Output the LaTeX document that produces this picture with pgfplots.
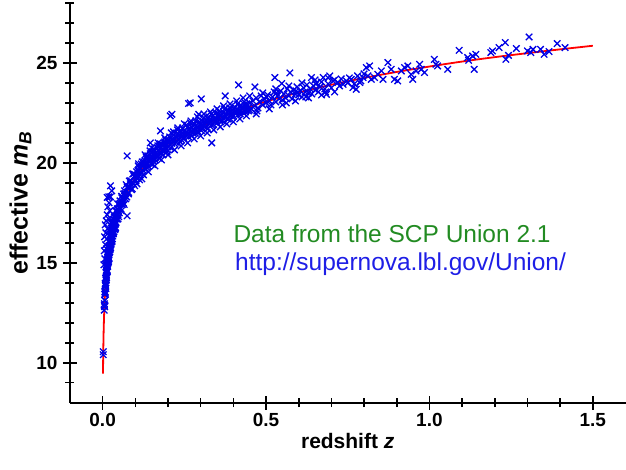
\documentclass[border=0pt]{standalone}
\usepackage{pgfplots}
\pgfplotsset{compat=1.18}
\usepackage{fontspec}
\setmainfont{Liberation Sans}
\definecolor{txtgreen}{RGB}{34,139,34}
\definecolor{txtblue}{RGB}{30,30,230}
\begin{document}
\begin{tikzpicture}
\begin{axis}[
  name=ax,
  scale only axis, width=556pt, height=400pt,
  xmin=-0.1, xmax=1.6, ymin=8, ymax=28,
  axis x line*=bottom, axis y line*=left,
  axis line style={line width=1.8pt},
  xtick={0,0.5,1,1.5},
  minor xtick={0.1,0.2,0.3,0.4,0.6,0.7,0.8,0.9,1.1,1.2,1.3,1.4},
  ytick={10,15,20,25},
  minor ytick={9,11,12,13,14,16,17,18,19,21,22,23,24,26,27,28},
  tick align=center,
  major tick length=14pt, minor tick length=9pt,
  every tick/.style={line width=1.6pt, black},
  /pgf/number format/assume math mode=true,
  xticklabel style={/pgf/number format/fixed, /pgf/number format/fixed zerofill, /pgf/number format/precision=1, font=\fontsize{19}{21}\selectfont\bfseries},
  yticklabel style={font=\fontsize{19}{21}\selectfont\bfseries, xshift=-2pt},
  xlabel={\bfseries redshift \textit{z}},
  ylabel={\bfseries effective \textit{m}\textsubscript{\textit{B}}},
  xlabel style={font=\fontsize{21}{24}\selectfont},
  ylabel style={font=\fontsize{25}{28}\selectfont, yshift=-2pt},
  clip=false,
]
% model curve
\addplot[red, line width=1.8pt, smooth] coordinates {
(0.00117,9.45) (0.0015,9.98) (0.002,10.61) (0.003,11.49) (0.004,12.11) (0.005,12.60)
(0.0065,13.18) (0.008,13.63) (0.01,14.12) (0.0125,14.61) (0.015,15.01) (0.0175,15.34)
(0.02,15.63) (0.025,16.12) (0.03,16.53) (0.035,16.87) (0.04,17.17) (0.05,17.66)
(0.06,18.07) (0.07,18.42) (0.08,18.72) (0.09,18.99) (0.1,19.23) (0.12,19.65)
(0.14,20.01) (0.16,20.33) (0.18,20.61) (0.2,20.85) (0.25,21.37) (0.3,21.81)
(0.35,22.18) (0.4,22.51) (0.45,22.80) (0.5,23.07) (0.6,23.52) (0.7,23.91)
(0.8,24.25) (0.9,24.55) (1.0,24.82) (1.1,25.07) (1.2,25.29) (1.3,25.49)
(1.4,25.68) (1.5,25.86)
};
% supernovae
\addplot[only marks, mark=x, mark size=4.6pt, color=blue!90!black, mark options={line width=1.3pt}] table {
z m
0.0019 10.55
0.0020 10.40
0.0048 12.63
0.0052 12.86
0.0055 12.95
0.006 12.80
0.0063 13.42
0.0065 13.12
0.007 13.56
0.0072 13.12
0.0075 13.54
0.0078 13.97
0.008 13.49
0.0083 13.89
0.0085 13.43
0.0088 13.93
0.009 13.87
0.0093 14.22
0.0095 13.82
0.0098 14.21
0.010 13.72
0.0102 14.51
0.0105 14.13
0.0108 14.30
0.011 14.52
0.0113 14.15
0.0115 14.90
0.0118 14.37
0.012 14.59
0.0123 14.26
0.0125 14.89
0.0128 14.62
0.013 14.84
0.0133 14.53
0.0135 15.10
0.0138 14.66
0.014 14.86
0.0143 15.12
0.0145 14.56
0.0148 15.08
0.015 14.94
0.0153 15.47
0.0155 14.82
0.0158 15.28
0.016 15.26
0.0163 14.98
0.0165 15.52
0.0168 15.19
0.017 15.49
0.0173 15.03
0.0175 15.39
0.0178 15.78
0.018 15.26
0.0183 15.62
0.0185 15.13
0.0188 15.58
0.019 15.50
0.0193 15.81
0.0195 15.39
0.0198 15.75
0.020 15.23
0.0205 16.04
0.021 15.65
0.0215 15.81
0.022 16.03
0.0225 15.65
0.023 16.42
0.0235 15.88
0.024 16.10
0.0245 15.77
0.025 16.40
0.0255 16.13
0.026 16.36
0.0265 16.04
0.027 16.62
0.0275 16.17
0.028 16.38
0.0285 16.64
0.029 16.08
0.0295 16.60
0.030 16.46
0.0305 16.98
0.031 16.34
0.0315 16.80
0.032 16.79
0.0325 16.51
0.033 17.05
0.0335 16.71
0.034 17.03
0.0345 16.56
0.035 16.92
0.0355 17.30
0.036 16.79
0.0365 17.14
0.037 16.66
0.0375 17.11
0.038 17.03
0.0385 17.34
0.039 16.93
0.0395 17.28
0.040 16.77
0.041 17.58
0.042 17.19
0.043 17.35
0.044 17.57
0.045 17.19
0.046 17.95
0.047 17.41
0.048 17.64
0.049 17.31
0.050 17.94
0.052 17.71
0.054 17.98
0.056 17.71
0.058 18.33
0.060 17.91
0.062 18.15
0.064 18.44
0.066 17.92
0.068 18.47
0.070 18.35
0.072 18.91
0.074 18.29
0.076 18.76
0.078 18.78
0.080 18.52
0.082 19.09
0.084 18.77
0.086 19.11
0.088 18.66
0.090 19.04
0.092 19.44
0.094 18.95
0.096 19.32
0.098 18.86
0.100 19.32
0.017 15.62
0.019 15.20
0.021 16.02
0.023 15.70
0.025 15.90
0.027 16.05
0.029 16.72
0.031 16.85
0.033 16.45
0.035 17.15
0.037 17.25
0.039 16.70
0.041 17.00
0.043 17.62
0.045 17.70
0.047 17.20
0.051 17.50
0.053 18.10
0.055 17.95
0.057 17.60
0.059 18.25
0.063 18.00
0.067 18.60
0.071 18.20
0.075 18.80
0.079 18.45
0.085 18.95
0.091 18.70
0.095 19.45
0.012 14.75
0.014 14.60
0.016 15.40
0.018 15.05
0.020 15.85
0.022 15.55
0.024 16.30
0.026 15.95
0.028 16.70
0.030 16.20
0.032 16.55
0.034 16.95
0.004 14.9
0.005 15.6
0.006 16.3
0.007 15.2
0.008 16.9
0.009 15.9
0.010 16.5
0.011 17.1
0.012 15.7
0.013 16.2
0.014 17.4
0.015 16.7
0.016 17.8
0.018 17.2
0.020 18.0
0.022 17.6
0.024 18.3
0.026 17.0
0.028 18.6
0.019 18.3
0.024 18.85
0.014 18.27
0.075 17.35
0.075 20.35
0.102 19.10
0.104 19.55
0.106 19.25
0.108 19.62
0.110 19.30
0.112 19.78
0.114 19.42
0.116 19.70
0.118 19.95
0.120 19.50
0.122 19.88
0.124 19.62
0.126 20.05
0.128 19.75
0.130 20.10
0.132 19.70
0.134 20.20
0.136 19.98
0.138 20.35
0.140 19.82
0.142 20.22
0.144 20.05
0.146 20.45
0.148 19.95
0.150 20.30
0.152 20.55
0.154 20.10
0.156 20.42
0.158 20.20
0.160 20.60
0.162 20.28
0.164 20.50
0.166 20.75
0.168 20.35
0.170 20.62
0.172 20.40
0.174 20.85
0.176 20.55
0.178 20.78
0.180 20.45
0.182 20.92
0.184 20.65
0.186 20.88
0.188 20.58
0.190 21.05
0.192 20.72
0.194 20.95
0.196 20.68
0.198 21.10
0.200 20.80
0.203 21.12
0.206 20.90
0.209 21.25
0.212 20.98
0.215 21.20
0.218 21.40
0.221 20.95
0.224 21.30
0.227 21.10
0.230 21.45
0.233 21.18
0.236 21.38
0.239 21.60
0.242 21.15
0.245 21.48
0.248 21.28
0.251 21.62
0.254 21.35
0.257 21.55
0.260 21.78
0.263 21.30
0.266 21.60
0.269 21.42
0.272 21.80
0.275 21.50
0.278 21.70
0.281 21.95
0.284 21.48
0.287 21.78
0.290 21.60
0.293 22.00
0.296 21.72
0.299 21.90
0.302 21.62
0.306 22.10
0.310 21.85
0.314 22.05
0.318 21.78
0.322 22.22
0.326 21.95
0.330 22.15
0.334 21.88
0.338 22.35
0.342 22.05
0.346 22.25
0.350 22.00
0.354 22.42
0.358 22.15
0.362 22.38
0.366 22.10
0.370 22.52
0.374 22.28
0.378 22.45
0.382 22.20
0.386 22.62
0.390 22.35
0.394 22.58
0.398 22.30
0.402 22.70
0.406 22.48
0.410 22.65
0.414 22.40
0.418 22.82
0.422 22.58
0.426 22.75
0.430 22.52
0.434 22.92
0.438 22.65
0.442 22.85
0.446 22.60
0.450 23.00
0.101 19.40
0.105 18.95
0.109 19.85
0.113 19.15
0.117 19.55
0.121 20.05
0.125 19.40
0.129 19.95
0.133 20.30
0.137 19.75
0.141 20.15
0.145 20.60
0.149 20.20
0.153 19.92
0.157 20.70
0.161 20.15
0.165 20.40
0.169 20.85
0.173 20.22
0.177 20.95
0.181 20.62
0.185 20.40
0.189 20.90
0.193 21.15
0.197 20.55
0.201 21.00
0.205 21.30
0.209 20.75
0.213 21.15
0.217 21.55
0.221 21.20
0.225 21.02
0.229 21.65
0.233 21.40
0.237 21.05
0.241 21.45
0.245 21.75
0.249 21.20
0.253 21.50
0.257 21.90
0.261 21.45
0.265 21.70
0.269 22.00
0.273 21.35
0.277 21.85
0.281 21.60
0.285 22.10
0.289 21.80
0.293 21.55
0.297 22.05
0.301 21.95
0.305 21.70
0.309 22.25
0.313 21.95
0.317 22.15
0.321 21.70
0.325 22.30
0.329 22.05
0.333 22.45
0.337 21.95
0.341 22.20
0.345 22.50
0.349 22.10
0.353 22.30
0.357 22.60
0.361 22.05
0.365 22.45
0.369 22.25
0.373 22.70
0.377 22.35
0.381 22.55
0.385 22.20
0.389 22.75
0.393 22.45
0.397 22.65
0.401 22.35
0.405 22.80
0.409 22.55
0.413 22.95
0.417 22.60
0.421 22.45
0.425 22.85
0.429 22.70
0.433 23.05
0.437 22.55
0.441 22.95
0.445 22.75
0.449 22.65
0.110 19.95
0.120 19.20
0.130 20.40
0.140 19.55
0.150 20.75
0.160 19.85
0.170 21.00
0.180 20.15
0.190 21.25
0.200 20.40
0.210 21.50
0.220 20.65
0.230 21.75
0.240 20.85
0.250 21.95
0.260 21.00
0.270 22.10
0.280 21.20
0.290 22.30
0.300 21.35
0.310 22.45
0.320 21.50
0.330 22.55
0.340 21.65
0.350 22.70
0.360 21.80
0.370 22.85
0.380 21.95
0.390 22.95
0.400 22.05
0.410 23.10
0.420 22.20
0.430 23.25
0.440 22.35
0.450 23.35
0.470 22.45
0.490 23.50
0.510 22.70
0.530 23.70
0.550 22.90
0.570 23.85
0.590 23.10
0.610 24.00
0.630 23.25
0.650 24.15
0.670 23.40
0.690 24.25
0.710 23.55
0.268 23.00
0.302 23.20
0.416 23.90
0.334 21.00
0.212 22.43
0.375 23.35
0.177 21.60
0.146 21.00
0.207 22.35
0.263 22.97
0.294 22.43
0.466 23.80
0.527 24.27
0.573 24.50
0.548 23.97
0.639 24.27
0.455 22.70
0.460 23.10
0.465 22.85
0.470 23.25
0.475 22.75
0.480 23.05
0.485 23.35
0.490 22.90
0.495 23.20
0.500 23.00
0.505 23.40
0.510 23.10
0.515 22.90
0.520 23.30
0.525 23.55
0.530 23.05
0.535 23.35
0.540 23.20
0.545 23.60
0.550 23.15
0.555 23.45
0.560 23.25
0.565 23.70
0.570 23.35
0.575 23.55
0.580 23.20
0.585 23.65
0.590 23.45
0.595 23.80
0.600 23.40
0.605 23.62
0.610 23.30
0.615 23.75
0.620 23.55
0.625 23.90
0.630 23.50
0.635 23.70
0.640 23.45
0.645 23.85
0.650 23.65
0.655 24.00
0.660 23.55
0.665 23.80
0.670 24.05
0.680 23.70
0.690 23.95
0.700 23.75
0.710 24.15
0.725 23.85
0.730 24.20
0.750 24.00
0.755 24.25
0.770 23.95
0.780 24.35
0.790 24.10
0.800 24.45
0.472 22.60
0.502 23.30
0.532 23.50
0.562 23.00
0.592 23.60
0.622 23.30
0.652 23.95
0.682 23.55
0.675 24.27
0.685 23.43
0.695 24.35
0.705 24.10
0.720 24.02
0.736 23.93
0.746 24.10
0.761 24.18
0.766 23.77
0.776 23.68
0.787 24.02
0.797 24.27
0.807 24.77
0.817 24.85
0.812 24.35
0.822 24.18
0.832 24.27
0.842 24.43
0.853 24.60
0.858 24.18
0.873 25.02
0.883 24.68
0.893 24.18
0.903 24.10
0.914 24.60
0.924 24.77
0.934 24.85
0.944 24.43
0.949 24.18
0.959 24.60
0.970 24.93
0.975 24.68
0.985 24.52
1.015 25.18
1.020 24.93
1.025 24.85
1.056 24.68
1.091 25.63
1.117 25.27
1.132 25.35
1.142 25.43
1.120 25.13
1.137 24.68
1.188 25.52
1.193 25.60
1.213 25.77
1.232 26.02
1.234 25.18
1.242 25.38
1.266 25.72
1.305 26.30
1.300 25.60
1.310 25.52
1.317 25.68
1.340 25.68
1.351 25.43
1.366 25.57
1.391 25.97
1.415 25.77
};
\node[anchor=base west, text=txtgreen, font=\fontsize{24.5}{28}\selectfont, inner sep=0pt] at (axis cs:0.40,16.0) {Data from the SCP Union 2.1};
\node[anchor=base west, text=txtblue, font=\fontsize{24.5}{28}\selectfont, inner sep=0pt] at (axis cs:0.405,14.6) {http://supernova.lbl.gov/Union/};
\end{axis}
\pgfresetboundingbox
\path ([xshift=-70pt,yshift=-67pt]ax.south west) rectangle ([xshift=0.5pt,yshift=3pt]ax.north east);
\end{tikzpicture}
\end{document}
